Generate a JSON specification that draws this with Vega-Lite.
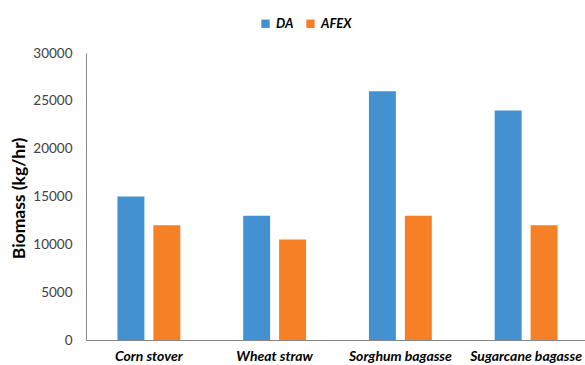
{
  "$schema": "https://vega.github.io/schema/vega-lite/v6.json",
  "autosize": "none",
  "width": 503,
  "height": 287,
  "padding": {"left": 86, "top": 53, "right": 0, "bottom": 25},
  "background": "white",
  "data": {
    "values": [
      {"feedstock": "Corn stover", "process": "DA", "biomass": 15000},
      {"feedstock": "Corn stover", "process": "AFEX", "biomass": 12000},
      {"feedstock": "Wheat straw", "process": "DA", "biomass": 13000},
      {"feedstock": "Wheat straw", "process": "AFEX", "biomass": 10500},
      {"feedstock": "Sorghum bagasse", "process": "DA", "biomass": 26000},
      {"feedstock": "Sorghum bagasse", "process": "AFEX", "biomass": 13000},
      {"feedstock": "Sugarcane bagasse", "process": "DA", "biomass": 24000},
      {"feedstock": "Sugarcane bagasse", "process": "AFEX", "biomass": 12000}
    ]
  },
  "mark": {"type": "bar"},
  "encoding": {
    "x": {
      "field": "feedstock",
      "type": "nominal",
      "sort": null,
      "scale": {"paddingInner": 0.5, "paddingOuter": 0.25},
      "axis": {
        "title": null,
        "labelAngle": 0,
        "labelFont": "Lato",
        "labelFontSize": 14,
        "labelFontWeight": "bold",
        "labelFontStyle": "italic",
        "labelColor": "#000000",
        "labelPadding": 20,
        "labelBaseline": "alphabetic",
        "labelOverlap": false,
        "labelBound": false,
        "ticks": false,
        "domainColor": "#868686",
        "domainWidth": 1,
        "grid": false
      }
    },
    "xOffset": {
      "field": "process",
      "type": "nominal",
      "sort": ["DA", "AFEX"],
      "scale": {"paddingInner": 0.25, "paddingOuter": 0}
    },
    "y": {
      "field": "biomass",
      "type": "quantitative",
      "scale": {"domain": [0, 30000], "nice": false},
      "axis": {
        "title": "Biomass (kg/hr)",
        "titleFont": "Lato",
        "titleFontSize": 17.5,
        "titleFontWeight": "bold",
        "titleColor": "#000000",
        "titleAngle": -90,
        "titleX": -67,
        "titleY": 145,
        "titleAlign": "center",
        "titleBaseline": "middle",
        "values": [0, 5000, 10000, 15000, 20000, 25000, 30000],
        "format": "d",
        "labelFont": "Lato",
        "labelFontSize": 13.5,
        "labelColor": "#404040",
        "labelPadding": 14,
        "ticks": false,
        "grid": false,
        "domainColor": "#868686",
        "domainWidth": 1
      }
    },
    "color": {
      "field": "process",
      "type": "nominal",
      "sort": ["DA", "AFEX"],
      "scale": {"domain": ["DA", "AFEX"], "range": ["#4391D0", "#F58025"]},
      "legend": {
        "title": null,
        "orient": "none",
        "direction": "horizontal",
        "legendX": 173,
        "legendY": -36,
        "symbolType": "square",
        "symbolSize": 70,
        "symbolStrokeWidth": 0,
        "labelFont": "Lato",
        "labelFontSize": 13,
        "labelFontWeight": "bold",
        "labelFontStyle": "italic",
        "labelColor": "#000000",
        "labelOffset": 4,
        "columnPadding": 10
      }
    }
  },
  "config": {
    "view": {"stroke": null}
  }
}
